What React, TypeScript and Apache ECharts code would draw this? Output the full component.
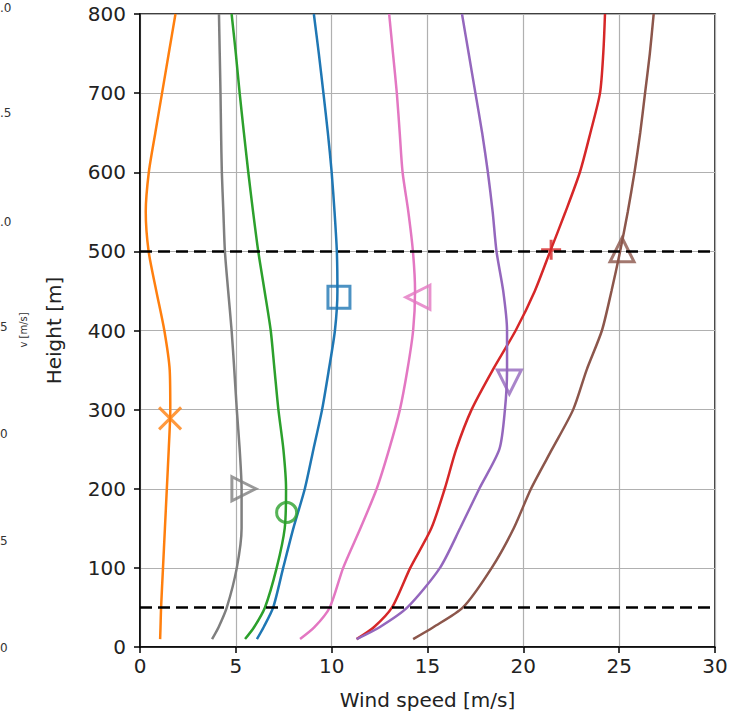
import React, { useEffect, useRef } from 'react';
import * as echarts from 'echarts';

// Heights (m) at which each wind profile is sampled
const heights = [10, 25, 50, 100, 150, 200, 250, 300, 350, 400, 450, 500, 550, 600, 650, 700, 750, 800];

// Wind speed (m/s) profiles
const speedOrange = [1.05, 1.07, 1.1, 1.2, 1.3, 1.4, 1.5, 1.58, 1.55, 1.27, 0.85, 0.45, 0.3, 0.46, 0.8, 1.15, 1.5, 1.85];
const speedGray = [3.76, 4.1, 4.53, 5.05, 5.3, 5.3, 5.2, 5.05, 4.92, 4.78, 4.6, 4.43, 4.35, 4.27, 4.23, 4.2, 4.16, 4.12];
const speedGreen = [5.48, 5.95, 6.52, 7.13, 7.55, 7.62, 7.48, 7.22, 7.02, 6.82, 6.5, 6.17, 5.9, 5.65, 5.42, 5.2, 5.0, 4.78];
const speedBlue = [6.1, 6.45, 6.95, 7.47, 8.0, 8.6, 9.05, 9.5, 9.85, 10.17, 10.3, 10.27, 10.15, 10.0, 9.8, 9.57, 9.33, 9.07];
const speedPink = [8.35, 9.1, 9.9, 10.6, 11.5, 12.35, 13.0, 13.56, 13.95, 14.25, 14.35, 14.24, 14.0, 13.7, 13.55, 13.4, 13.2, 13.0];
const speedRed = [11.3, 12.2, 13.15, 14.1, 15.2, 15.9, 16.5, 17.3, 18.4, 19.6, 20.6, 21.4, 22.2, 22.95, 23.5, 24.0, 24.17, 24.26];
const speedPurple = [11.3, 12.5, 13.95, 15.65, 16.7, 17.7, 18.75, 19.04, 19.15, 19.15, 18.95, 18.6, 18.4, 18.15, 17.85, 17.5, 17.15, 16.8];
const speedBrown = [14.25, 15.3, 16.85, 18.35, 19.5, 20.4, 21.5, 22.6, 23.3, 24.1, 24.6, 25.05, 25.45, 25.8, 26.1, 26.35, 26.6, 26.8];

// Marker points (speed, height) per profile, same order as profiles below
const markerSpeed = [1.57, 5.42, 7.65, 10.38, 14.5, 21.45, 19.27, 25.15];
const markerHeight = [289, 200, 170, 442, 442, 502, 335, 502];

// Horizontal reference heights (dashed)
const refHeights = [50, 500];

// Axis ticks
const xTicks = [0, 5, 10, 15, 20, 25, 30];
const yTicks = [0, 100, 200, 300, 400, 500, 600, 700, 800];

// Cropped tick labels from a neighbouring panel at the left edge
const sideLabels = ['.0', '.5', '.0', '5', '0', '5', '0'];

const profiles = [
  { speeds: speedOrange, color: '#ff7f0e', symbol: 'path://M0,0L10,10M10,0L0,10', size: 22 },
  { speeds: speedGray, color: '#7f7f7f', symbol: 'path://M0,0L10,5L0,10Z', size: 24 },
  { speeds: speedGreen, color: '#2ca02c', symbol: 'circle', size: 20 },
  { speeds: speedBlue, color: '#1f77b4', symbol: 'rect', size: 22 },
  { speeds: speedPink, color: '#e377c2', symbol: 'path://M10,0L0,5L10,10Z', size: 24 },
  { speeds: speedRed, color: '#d62728', symbol: 'path://M5,0L5,10M0,5L10,5', size: 20 },
  { speeds: speedPurple, color: '#9467bd', symbol: 'path://M0,0L10,0L5,10Z', size: 24 },
  { speeds: speedBrown, color: '#8c564b', symbol: 'path://M5,0L10,10L0,10Z', size: 24 },
];

const sideY = [8, 113, 222, 327, 434, 541, 648];

export default function App() {
  const ref = useRef<HTMLDivElement>(null);
  useEffect(() => {
    document.body.style.margin = '0';
    const chart = echarts.init(ref.current!, null, { renderer: 'svg' });
    const font = 'DejaVu Sans';
    const series: any[] = [];
    profiles.forEach((p) => {
      series.push({
        type: 'line',
        data: p.speeds.map((s, i) => [s, heights[i]]),
        showSymbol: false,
        symbol: 'none',
        smooth: 0.25,
        lineStyle: { color: p.color, width: 2.5 },
        z: 3,
      });
    });
    profiles.forEach((p, i) => {
      series.push({
        type: 'scatter',
        data: [[markerSpeed[i], markerHeight[i]]],
        symbol: p.symbol,
        symbolSize: p.size,
        itemStyle: { color: 'rgba(0,0,0,0)', borderColor: p.color, borderWidth: 3 },
        z: 4,
      });
    });
    refHeights.forEach((h) => {
      series.push({
        type: 'line',
        data: [[xTicks[0], h], [xTicks[xTicks.length - 1], h]],
        symbol: 'none',
        lineStyle: { color: '#000', width: 2.5, type: [12, 6] },
        z: 5,
      });
    });
    const graphics: any[] = sideLabels.map((t, i) => ({
      type: 'text',
      x: 0,
      y: sideY[i],
      style: { text: t, fontSize: 12, fontFamily: font, fill: '#333', verticalAlign: 'middle' },
    }));
    graphics.push({
      type: 'text',
      x: 23,
      y: 330,
      rotation: Math.PI / 2,
      style: { text: 'v [m/s]', fontSize: 10, fontFamily: font, fill: '#333', align: 'center', verticalAlign: 'middle' },
    });
    chart.setOption({
      animation: false,
      backgroundColor: '#fff',
      textStyle: { fontFamily: font },
      grid: { left: 140, right: 31, top: 14, bottom: 73, show: true, borderColor: '#000', borderWidth: 1.5, backgroundColor: 'transparent' },
      xAxis: {
        type: 'value',
        min: 0,
        max: 30,
        interval: 5,
        name: 'Wind speed [m/s]',
        nameLocation: 'middle',
        nameGap: 43,
        nameTextStyle: { fontSize: 20, color: '#222', fontFamily: font },
        axisLine: { show: true, lineStyle: { color: '#000', width: 1.5 } },
        axisTick: { show: true, inside: false, length: 6, lineStyle: { color: '#000', width: 1.5 } },
        axisLabel: { fontSize: 20, color: '#222', margin: 9, fontFamily: font },
        splitLine: { show: true, lineStyle: { color: '#b0b0b0', width: 1.2 } },
      },
      yAxis: {
        type: 'value',
        min: 0,
        max: 800,
        interval: 100,
        name: 'Height [m]',
        nameLocation: 'middle',
        nameGap: 76,
        nameTextStyle: { fontSize: 20, color: '#222', fontFamily: font },
        axisLine: { show: true, lineStyle: { color: '#000', width: 1.5 } },
        axisTick: { show: true, inside: false, length: 6, lineStyle: { color: '#000', width: 1.5 } },
        axisLabel: { fontSize: 20, color: '#222', margin: 14, fontFamily: font },
        splitLine: { show: true, lineStyle: { color: '#b0b0b0', width: 1.2 } },
      },
      graphic: graphics,
      series,
    });
    return () => chart.dispose();
  }, []);
  return <div ref={ref} style={{ width: 746, height: 720 }} />;
}
